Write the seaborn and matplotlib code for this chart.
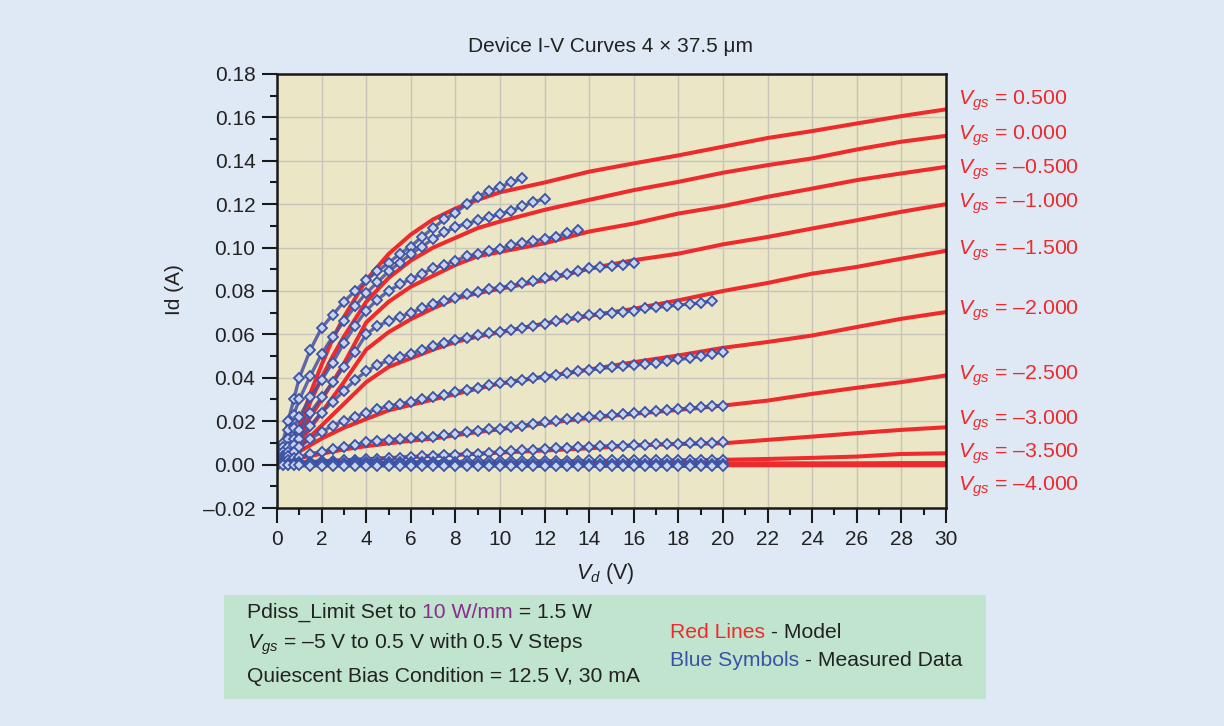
import matplotlib
matplotlib.use("Agg")
import matplotlib.pyplot as plt
import pandas as pd
import seaborn as sns
from matplotlib.ticker import MultipleLocator, FixedLocator
from matplotlib.patches import Rectangle

# ---------------------------------------------------------------- data
vgs_names = ["0.500", "0.000", "\u20130.500", "\u20131.000", "\u20131.500",
             "\u20132.000", "\u20132.500", "\u20133.000", "\u20133.500", "\u20134.000"]

# model drain voltage grid (V)
model_vd = [0, 0.5, 1, 1.5, 2, 2.5, 3, 4, 5, 6, 7, 8, 9, 10,
            12, 14, 16, 18, 20, 22, 24, 26, 28, 30]

# model drain current (A), one list per gate voltage
model_p050 = [0, .004, .018, .033, .046, .058, .068, .085, .097, .106, .113, .118, .122, .1255,
              .130, .135, .1388, .1425, .1465, .1505, .1537, .1572, .1606, .1637]
model_p000 = [0, .004, .016, .029, .040, .050, .059, .075, .086, .094, .100, .1045, .109, .112,
              .1174, .122, .1265, .1303, .1345, .138, .1411, .1452, .1488, .1515]
model_m050 = [0, .0035, .013, .022, .030, .038, .0465, .0655, .075, .082, .087, .092, .096, .098,
              .102, .1074, .1111, .1157, .1191, .1234, .1272, .1311, .1342, .1372]
model_m100 = [0, .003, .010, .017, .024, .031, .038, .053, .061, .067, .072, .0765, .079, .081,
              .085, .0903, .0942, .0972, .1015, .1049, .1088, .1126, .1165, .120]
model_m150 = [0, .003, .008, .013, .018, .023, .028, .038, .045, .049, .053, .0565, .059, .061,
              .065, .0685, .0718, .0757, .080, .0837, .088, .0911, .0949, .0985]
model_m200 = [0, .0025, .006, .009, .012, .0145, .017, .021, .025, .0275, .030, .0325, .035, .0374,
              .0405, .0438, .0472, .0503, .0538, .0565, .0595, .0634, .0672, .0703]
model_m250 = [0, .0015, .003, .004, .005, .006, .007, .0085, .0098, .011, .012, .0135, .015, .0163,
              .019, .0215, .0234, .0252, .0272, .0295, .0326, .0354, .038, .0411]
model_m300 = [0, .0005, .001, .0012, .0015, .0018, .002, .0025, .003, .0035, .004, .0045, .005, .0055,
              .0065, .0075, .0088, .0095, .0098, .0114, .0129, .0145, .016, .0172]
model_m350 = [0, 0, .0001, .0001, .0002, .0002, .0003, .0003, .0004, .0005, .0005, .0006, .0007, .0008,
              .001, .0012, .0015, .0018, .0022, .0026, .0031, .0037, .0049, .0052]
model_m400 = [0, 0, 0, 0, 0, .0001, .0001, .0001, .0002, .0002, .0002, .0003, .0003, .0003,
              .0004, .0004, .0005, .0005, .0005, .0006, .0006, .0006, .0007, .0007]
model_m450 = [0, 0, 0, 0, 0, 0, 0, 0, 0, 0, 0, 0, 0, 0,
              0, 0, 0, 0, 0, 0, 0, 0, 0, 0]
model_m500 = [0, -.0002, -.0003, -.0003, -.0003, -.0003, -.0003, -.0003, -.0003, -.0003, -.0003, -.0003,
              -.0003, -.0003, -.0003, -.0003, -.0003, -.0003, -.0003, -.0003, -.0003, -.0003, -.0003, -.0003]

# measured drain voltage grid (V)
meas_vd = [0, 0.25, 0.5, 0.75, 1.0, 1.5, 2.0, 2.5, 3.0, 3.5, 4.0, 4.5, 5.0, 5.5, 6.0, 6.5,
           7.0, 7.5, 8.0, 8.5, 9.0, 9.5, 10.0, 10.5, 11.0, 11.5, 12.0, 12.5, 13.0, 13.5,
           14.0, 14.5, 15.0, 15.5, 16.0, 16.5, 17.0, 17.5, 18.0, 18.5, 19.0, 19.5, 20.0]

# measured drain current (A)
meas_p050 = [0, .010, .020, .030, .040, .053, .063, .069, .075, .080, .085, .089, .093, .097,
             .1005, .105, .109, .113, .116, .120, .1235, .126, .128, .130, .132]
meas_p000 = [0, .008, .016, .023, .030, .041, .051, .059, .066, .073, .079, .084, .089, .093,
             .097, .1005, .104, .107, .1095, .111, .1125, .114, .1155, .117, .119, .121, .1225]
meas_m050 = [0, .006, .012, .017, .022, .031, .039, .047, .056, .064, .071, .076, .080, .083,
             .0855, .088, .0905, .092, .094, .096, .097, .0985, .0995, .101, .102, .103, .104,
             .105, .1065, .108]
meas_m100 = [0, .004, .008, .012, .016, .024, .031, .038, .045, .052, .060, .064, .066, .068,
             .070, .072, .074, .0755, .077, .0785, .0795, .081, .0815, .0825, .0835, .0845,
             .0858, .087, .088, .089, .0905, .091, .0915, .092, .093]
meas_m150 = [0, .003, .006, .009, .012, .018, .024, .029, .034, .039, .043, .046, .048, .0495,
             .051, .053, .0545, .056, .0575, .0585, .0595, .0605, .0612, .062, .063, .064,
             .065, .066, .067, .068, .069, .0695, .070, .0705, .071, .072, .0725, .073,
             .0735, .074, .0745, .0755]
meas_m200 = [0, .002, .004, .006, .008, .012, .015, .018, .020, .022, .024, .0255, .027, .028,
             .029, .030, .031, .032, .0335, .0345, .0355, .0365, .0374, .038, .039, .0398,
             .0405, .0412, .042, .043, .0438, .0443, .0448, .0453, .0458, .0464, .047, .0478,
             .0485, .049, .050, .051, .052]
meas_m250 = [0, .001, .002, .003, .0035, .005, .006, .007, .008, .009, .0105, .011, .0115, .012,
             .0122, .0125, .0128, .0135, .0143, .015, .0157, .0162, .0166, .0173, .018, .0188,
             .0195, .0202, .0208, .0214, .022, .0224, .0228, .0232, .0236, .0241, .0246, .0251,
             .0256, .026, .0264, .0268, .0272]
meas_m300 = [0, .0003, .0005, .0008, .001, .0012, .0015, .0018, .002, .0022, .0025, .0028, .003,
             .0032, .0035, .0038, .004, .0042, .0045, .0048, .005, .0054, .0058, .0062, .0065,
             .0068, .0072, .0075, .0078, .008, .0083, .0085, .0087, .0088, .009, .0092, .0093,
             .0095, .0096, .0098, .0099, .0101, .0103]
meas_m350 = [0, .0002, .0003, .0004, .0005, .0006, .0007, .0008, .0009, .001, .001, .0011, .0011,
             .0012, .0012, .0013, .0013, .0014, .0014, .0015, .0015, .0016, .0016, .0016, .0017,
             .0017, .0017, .0018, .0018, .0018, .0019, .0019, .0019, .002, .002, .002, .002,
             .0021, .0021, .0021, .0021, .0022, .0022]
meas_m400 = [0, .0001, .0002, .0002, .0003, .0003, .0003, .0002, .0003, .0003, .0002, .0003, .0003,
             .0003, .0002, .0003, .0003, .0003, .0002, .0003, .0003, .0003, .0003, .0002, .0003,
             .0003, .0003, .0002, .0003, .0003, .0003, .0003, .0002, .0003, .0003, .0003, .0003,
             .0002, .0003, .0003, .0003, .0003, .0003]
meas_m500 = [0, -.0002, -.0003, -.0004, -.0004, -.0005, -.0005, -.0005, -.0006, -.0005, -.0006,
             -.0005, -.0006, -.0005, -.0006, -.0006, -.0005, -.0006, -.0006, -.0005, -.0006,
             -.0006, -.0006, -.0007, -.0007, -.0008, -.0008, -.0008, -.0008, -.0008, -.0008,
             -.0008, -.0008, -.0008, -.0008, -.0008, -.0008, -.0008, -.0008, -.0008, -.0008,
             -.0008, -.0008]

model_curves = [model_p050, model_p000, model_m050, model_m100, model_m150, model_m200,
                model_m250, model_m300, model_m350, model_m400, model_m450, model_m500]
meas_curves = [meas_p050, meas_p000, meas_m050, meas_m100, meas_m150, meas_m200,
               meas_m250, meas_m300, meas_m350, meas_m400, meas_m500]

# label nudges (points) for the right-hand Vgs captions
label_dy = [6, 0, -2, 0, 0, 1, 0, 5, 0, -17]

# ---------------------------------------------------------------- style
sns.set_theme(style="white")
plt.rcParams["font.family"] = ["Liberation Sans", "DejaVu Sans"]
plt.rcParams["mathtext.fontset"] = "custom"
plt.rcParams["mathtext.rm"] = "Liberation Sans"
plt.rcParams["mathtext.it"] = "Liberation Sans:italic"

RED = "#ee2a2c"
BLUE = "#3b52a6"
BG = "#dfe9f6"
PLOT_BG = "#ebe6c5"
INK = "#222222"

fig = plt.figure(figsize=(12.24, 7.26), dpi=100, facecolor=BG)
ax = fig.add_axes([277 / 1224, 1 - 508 / 726, 669 / 1224, 434 / 726])
ax.set_facecolor(PLOT_BG)

# model curves
for ys in model_curves:
    df = pd.DataFrame({"Vd": model_vd, "Id": ys})
    sns.lineplot(data=df, x="Vd", y="Id", ax=ax, color=RED, lw=2.9,
                 estimator=None, sort=False, zorder=3, solid_capstyle="round")

# measured data
for ys in meas_curves:
    df = pd.DataFrame({"Vd": meas_vd[:len(ys)], "Id": ys})
    sns.lineplot(data=df, x="Vd", y="Id", ax=ax, color="#4651a3", lw=2.4, alpha=0.85,
                 estimator=None, sort=False, zorder=4)
    sns.lineplot(data=df, x="Vd", y="Id", ax=ax, color=BLUE, lw=0, marker="D",
                 markersize=5.5, markerfacecolor="#c9d3ea", markeredgecolor=BLUE,
                 markeredgewidth=1.3, estimator=None, sort=False, zorder=5)

ax.set_xlim(0, 30)
ax.set_ylim(-0.02, 0.18)
ax.xaxis.set_major_locator(MultipleLocator(2))
ax.xaxis.set_minor_locator(MultipleLocator(1))
ax.yaxis.set_major_locator(FixedLocator([-0.02, 0, 0.02, 0.04, 0.06, 0.08, 0.10,
                                         0.12, 0.14, 0.16, 0.18]))
ax.yaxis.set_minor_locator(MultipleLocator(0.01))
ax.yaxis.set_major_formatter(plt.FuncFormatter(
    lambda v, p: ("\u2013%.2f" % abs(v)) if v < -1e-9 else "%.2f" % abs(v)))
ax.grid(True, which="major", color="#c6c4bb", lw=1.0, zorder=0)
ax.set_axisbelow(True)
for s in ax.spines.values():
    s.set_color("#1a1a1a")
    s.set_linewidth(1.8)
    s.set_zorder(6)
ax.tick_params(which="major", direction="out", length=10.5, width=1.5, color="#1a1a1a",
               labelsize=15, labelcolor=INK, pad=5, left=True, bottom=True)
ax.tick_params(which="minor", direction="out", length=5, width=1.5, color="#1a1a1a",
               left=True, bottom=True)
ax.set_xlabel("")
ax.set_ylabel("")

# Vgs captions at the right end of each model curve
for name, ys, dy in zip(vgs_names, model_curves, label_dy):
    ax.annotate(r"$V_{gs}$" + " = " + name, xy=(30, ys[-1]), xycoords="data",
                xytext=(8.5, dy), textcoords="offset points", ha="left", va="center",
                color=RED, fontsize=15.3, annotation_clip=False)

# titles
fig.text(611 / 1224, 1 - 47 / 726, "Device I-V Curves 4 \u00d7 37.5 \u03bcm",
         ha="center", va="center", fontsize=15, color=INK)
fig.text(175 / 1224, 1 - 290 / 726, "Id (A)", rotation=90, ha="center", va="center",
         fontsize=15, color=INK)
fig.text(605 / 1224, 1 - 573 / 726, r"$V_d$ (V)", ha="center", va="center",
         fontsize=15.5, color=INK)

# information panel
fig.patches.append(Rectangle((224 / 1224, 1 - 699 / 726), 762 / 1224, 104 / 726,
                             transform=fig.transFigure, facecolor="#c0e4cd",
                             edgecolor="none", zorder=0))

fig.canvas.draw()
renderer = fig.canvas.get_renderer()


def segments(x_px, y_px, parts, size=15.2):
    x = x_px / 1224
    for txt, col in parts:
        t = fig.text(x, 1 - y_px / 726, txt, ha="left", va="center", fontsize=size, color=col)
        w = t.get_window_extent(renderer).width
        x += w / 1224


segments(247, 612, [("Pdiss_Limit Set to ", INK), ("10 W/mm", "#8b2c8e"), (" = 1.5 W", INK)])
segments(247, 644, [(r"$V_{gs}$" + " = \u20135 V to 0.5 V with 0.5 V Steps", INK)])
segments(247, 676, [("Quiescent Bias Condition = 12.5 V, 30 mA", INK)])
segments(670, 633, [("Red Lines", RED), (" - Model", INK)])
segments(670, 661, [("Blue Symbols", BLUE), (" - Measured Data", INK)])

fig.savefig("out.png", dpi=100, facecolor=BG)
